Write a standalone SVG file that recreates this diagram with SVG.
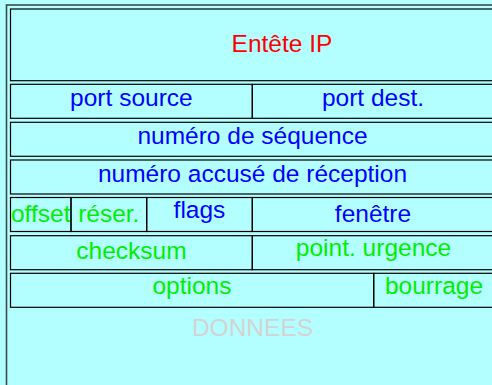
<svg xmlns="http://www.w3.org/2000/svg" width="492" height="385" viewBox="0 0 492 385">
<style>
.cell{fill:none;stroke:#000;stroke-width:1.2}
.frame{fill:none;stroke:#3a4a4a;stroke-width:1.6}
text{font-family:"Liberation Sans",Arial,sans-serif;font-size:24.5px;text-anchor:middle}
.b{fill:#0000ff}.g{fill:#00ee00}.r{fill:#ff0000}.d{fill:#d3d3d3}
</style>
<rect x="0" y="0" width="492" height="385" fill="#b3ffff"/>
<rect class="frame" x="6.5" y="5" width="495" height="400"/>
<g id="ip"><rect class="cell" x="10.5" y="9" width="484" height="71.7"/><text class="r" x="282" y="52.3">Entête IP</text></g>
<g id="port-source"><rect class="cell" x="10.5" y="84.3" width="241.8" height="34"/><text class="b" x="131.4" y="106">port source</text></g>
<g id="port-dest"><rect class="cell" x="252.3" y="84.3" width="242" height="34"/><text class="b" x="373" y="106">port dest.</text></g>
<g id="seq"><rect class="cell" x="10.5" y="122.3" width="484" height="34"/><text class="b" x="252.5" y="144">numéro de séquence</text></g>
<g id="ack"><rect class="cell" x="10.5" y="160" width="484" height="34"/><text class="b" x="252.5" y="181.7">numéro accusé de réception</text></g>
<g id="offset"><rect class="cell" x="10.5" y="197.5" width="60.5" height="34"/><text class="g" x="40.7" y="222.3">offset</text></g>
<g id="reser"><rect class="cell" x="71" y="197.5" width="75.7" height="34"/><text class="g" x="108.8" y="222.3">réser.</text></g>
<g id="flags"><rect class="cell" x="146.7" y="197.5" width="105.6" height="34"/><text class="b" x="199.5" y="218.3">flags</text></g>
<g id="fenetre"><rect class="cell" x="252.3" y="197.5" width="242" height="34"/><text class="b" x="373" y="221.7">fenêtre</text></g>
<g id="checksum"><rect class="cell" x="10.5" y="235.7" width="241.8" height="34"/><text class="g" x="131.4" y="259.3">checksum</text></g>
<g id="urgence"><rect class="cell" x="252.3" y="235.7" width="242" height="34"/><text class="g" x="373.5" y="256">point. urgence</text></g>
<g id="options"><rect class="cell" x="10.5" y="273.3" width="363.2" height="34"/><text class="g" x="192" y="294.3">options</text></g>
<g id="bourrage"><rect class="cell" x="373.7" y="273.3" width="120.6" height="34"/><text class="g" x="434" y="294.3">bourrage</text></g>
<g id="donnees"><text class="d" x="252.5" y="335.7">DONNEES</text></g>
</svg>
